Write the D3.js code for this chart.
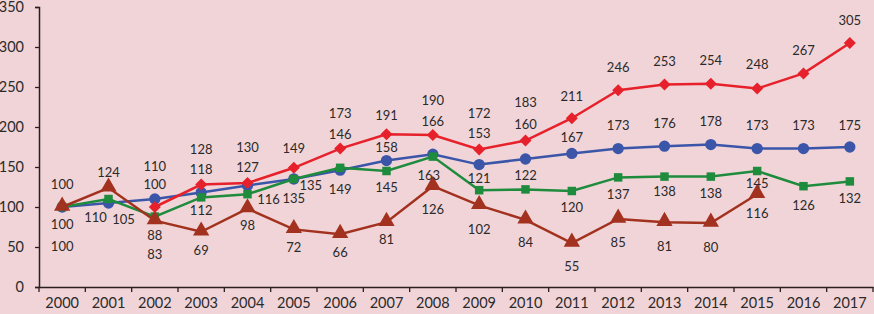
<!DOCTYPE html>
<html><head><meta charset="utf-8">
<script src="https://cdn.jsdelivr.net/npm/d3@7"></script>
<style>html,body{margin:0;padding:0;background:#f1d4d7;}svg{display:block;}</style>
</head><body><svg id="c" width="874" height="314"></svg>
<script>
const years = ["2000","2001","2002","2003","2004","2005","2006","2007","2008","2009","2010","2011","2012","2013","2014","2015","2016","2017"];
const redValues   = [null,null,100,128,130,149,173,191,190,172,183,211,246,253,254,248,267,305];
const blueValues  = [100,105,110,118,127,135,146,158,166,153,160,167,173,176,178,173,173,175];
const greenValues = [100,110,88,112,116,135,149,145,163,121,122,120,137,138,138,145,126,132];
const brownValues = [100,124,83,69,98,72,66,81,126,102,84,55,85,81,80,116,null,null];
const yTicks = [0,50,100,150,200,250,300,350];

// label placement (pixel offsets from each point: [dx, dy])
const redLabelOff   = [null,null,[0,-23],[0,-35],[0,-36],[0,-19],[0,-35],[0,-19],[0,-35],[0,-36],[0,-38],[0,-22],[0,-23],[0,-23],[0,-23],[0,-24],[0,-23],[0,-23]];
const blueLabelOff  = [[0,-23],[15,16],[0,-33],[0,-23],[0,-18],[17,6],[0,-36],[0,-13],[0,-33],[0,-31],[0,-35],[0,-16],[0,-23],[0,-23],[0,-23],[0,-23],[0,-23],[0,-22]];
const greenLabelOff = [[0,17],[-13,18],[0,19],[0,13],[21,5],[0,19],[0,22],[0,16],[-4,19],[0,-12],[0,-14],[0,16],[0,17],[0,15],[0,17],[0,12],[0,19],[0,17]];
const brownLabelOff = [[0,39],[0,-15],[0,34],[0,19],[0,17],[0,18],[0,18],[0,17],[0,23],[0,24],[0,23],[0,23],[0,23],[0,24],[0,24],[0,19],null,null];

const svg = d3.select("#c");
const m = {left:39, right:873, top:7, bottom:287};
const x = d3.scaleBand().domain(years).range([m.left, m.right]);
const y = d3.scaleLinear().domain([0,350]).range([m.bottom, m.top]);
const cx = d => x(d) + x.bandwidth()/2;

const font = "Lato, 'Liberation Sans', sans-serif";
const axisColor = "#2b1e1e";

// y axis
const ya = svg.append("g").attr("transform",`translate(${m.left},0)`)
  .call(d3.axisLeft(y).tickValues(yTicks).tickSize(4).tickPadding(11));
ya.select(".domain").attr("stroke",axisColor).attr("stroke-width",1.5);
ya.selectAll(".tick line").attr("stroke",axisColor).attr("stroke-width",1.3);
ya.selectAll("text").attr("font-family",font).attr("font-size",14.5).attr("fill","#2a2a2a");

// x axis with ticks between categories
const xa = svg.append("g").attr("transform",`translate(0,${m.bottom})`)
  .call(d3.axisBottom(x).tickSize(0).tickPadding(11));
xa.select(".domain").attr("stroke",axisColor).attr("stroke-width",1.5);
xa.selectAll("text").attr("font-family",font).attr("font-size",14.5).attr("fill","#2a2a2a");
const edges = years.map(d => x(d)).concat([m.right]);
svg.append("g").selectAll("line").data(edges).join("line")
  .attr("x1",d=>d).attr("x2",d=>d).attr("y1",m.bottom).attr("y2",m.bottom+5)
  .attr("stroke",axisColor).attr("stroke-width",1.3);

const series = [
  {vals: blueValues,  color:"#3b55a9", shape:"circle",   off: blueLabelOff},
  {vals: greenValues, color:"#1e8b3d", shape:"square",   off: greenLabelOff},
  {vals: brownValues, color:"#a2321f", shape:"triangle", off: brownLabelOff},
  {vals: redValues,   color:"#e6212b", shape:"diamond",  off: redLabelOff}
];

const line = d3.line().defined(d => d.v != null).x(d => cx(d.year)).y(d => y(d.v));
const symbols = {
  circle: d3.symbol().type(d3.symbolCircle).size(100),
  square: d3.symbol().type(d3.symbolSquare).size(72),
  triangle: d3.symbol().type(d3.symbolTriangle).size(115),
  diamond: d3.symbol().type(d3.symbolSquare).size(72)
};

series.forEach(s => {
  const pts = years.map((yr,i) => ({year: yr, v: s.vals[i], off: s.off[i]}));
  svg.append("path").datum(pts).attr("d", line)
    .attr("fill","none").attr("stroke", s.color).attr("stroke-width",2.5);
  svg.append("g").selectAll("path").data(pts.filter(d=>d.v!=null)).join("path")
    .attr("d", symbols[s.shape])
    .attr("transform", d => `translate(${cx(d.year)},${y(d.v) + (s.shape==="triangle"?-1:0)})` + (s.shape==="diamond" ? " rotate(45)" : ""))
    .attr("fill", s.color);
});

series.forEach(s => {
  const pts = years.map((yr,i) => ({year: yr, v: s.vals[i], off: s.off[i]}));
  svg.append("g").selectAll("text").data(pts.filter(d=>d.v!=null && d.off)).join("text")
    .attr("x", d => cx(d.year) + d.off[0])
    .attr("y", d => y(d.v) + d.off[1])
    .attr("dy","0.35em").attr("text-anchor","middle")
    .attr("font-family",font).attr("font-size",13).attr("fill","#2a2a2a")
    .text(d => d.v);
});
</script></body></html>
